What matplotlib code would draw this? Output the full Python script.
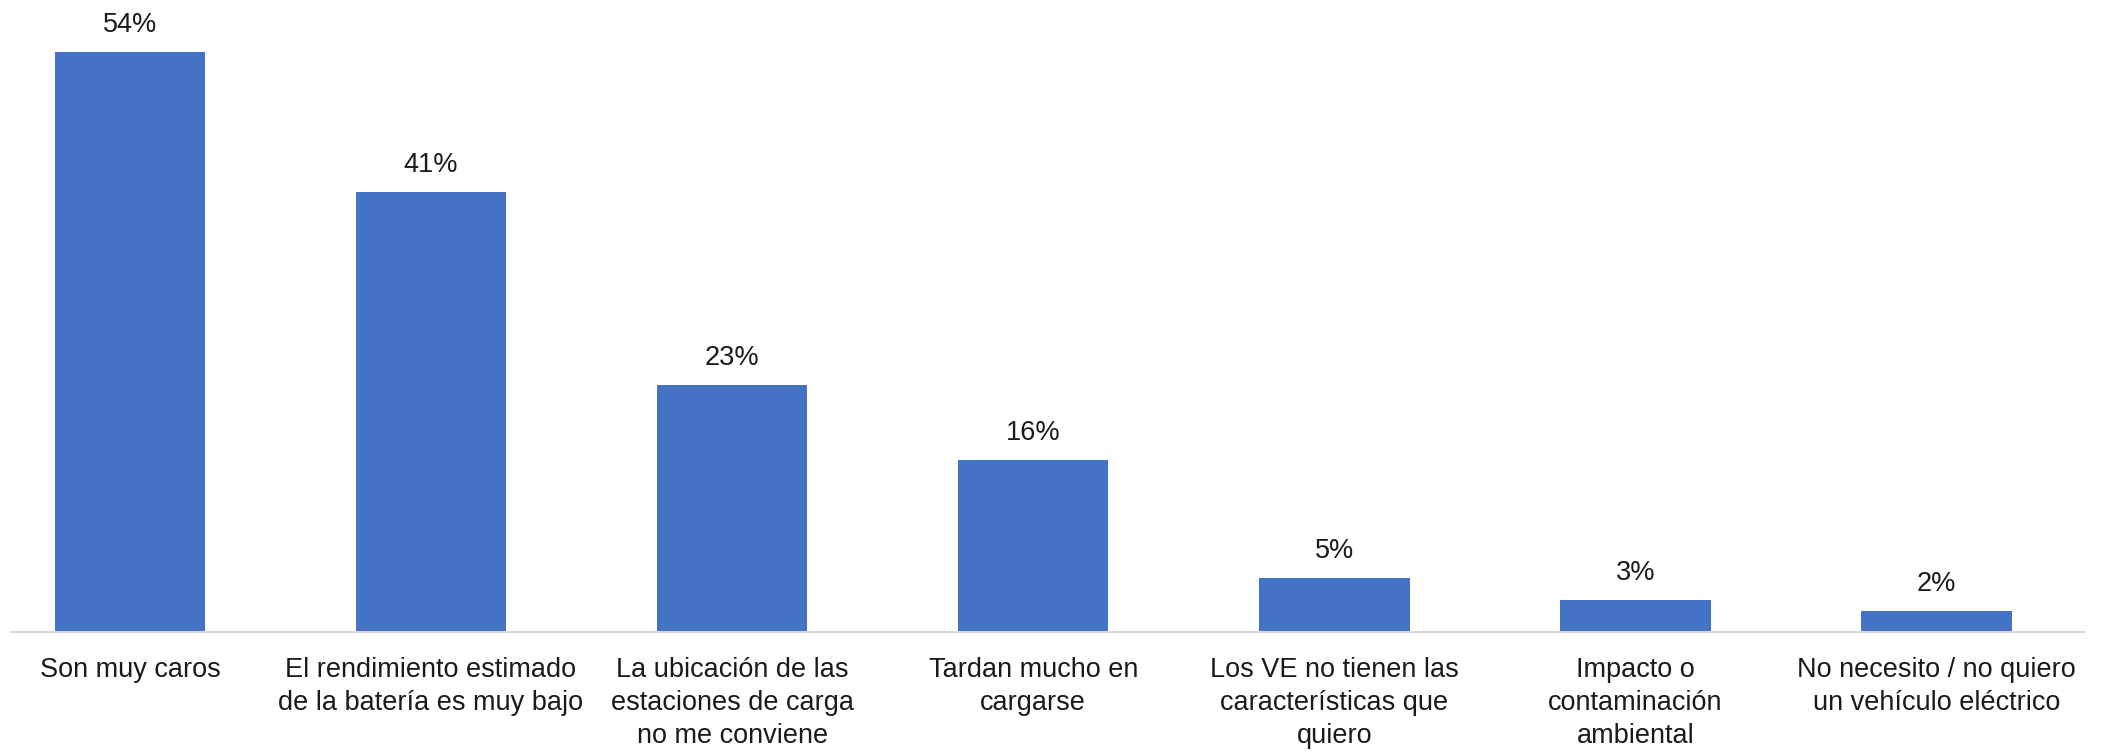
import matplotlib
matplotlib.use('Agg')
import matplotlib.pyplot as plt

categories = [
    'Son muy caros',
    'El rendimiento estimado\nde la batería es muy bajo',
    'La ubicación de las\nestaciones de carga\nno me conviene',
    'Tardan mucho en\ncargarse',
    'Los VE no tienen las\ncaracterísticas que\nquiero',
    'Impacto o\ncontaminación\nambiental',
    'No necesito / no quiero\nun vehículo eléctrico',
]
values = [54, 41, 23, 16, 5, 3, 2]

plt.rcParams['font.family'] = ['Liberation Sans', 'DejaVu Sans']
text_color = '#1a1a1a'

fig = plt.figure(figsize=(21.26, 7.56), dpi=100)
ax = fig.add_axes([11 / 2126, 1 - 632 / 756, (2084 - 11) / 2126, 632 / 756])

x = list(range(len(values)))
ax.bar(x, values, width=0.5, color='#4472C4')

# percentage labels above each bar
for xi, v in zip(x, values):
    ax.annotate(f'{v}%', (xi, v), xytext=(0, 10), textcoords='offset points',
                ha='center', va='bottom', fontsize=19.5, color=text_color)

ax.set_xlim(-0.395, 6.49)
ax.set_ylim(0, 54 * 632 / 580)

ax.set_xticks(x)
ax.set_xticklabels(categories, fontsize=19.5, color=text_color, linespacing=1.35)
ax.tick_params(axis='x', length=0, pad=18)
ax.set_yticks([])

for side in ['top', 'right', 'left']:
    ax.spines[side].set_visible(False)
ax.spines['bottom'].set_color('#D9D9D9')
ax.spines['bottom'].set_linewidth(1.5)

fig.savefig('out.png', dpi=100)
